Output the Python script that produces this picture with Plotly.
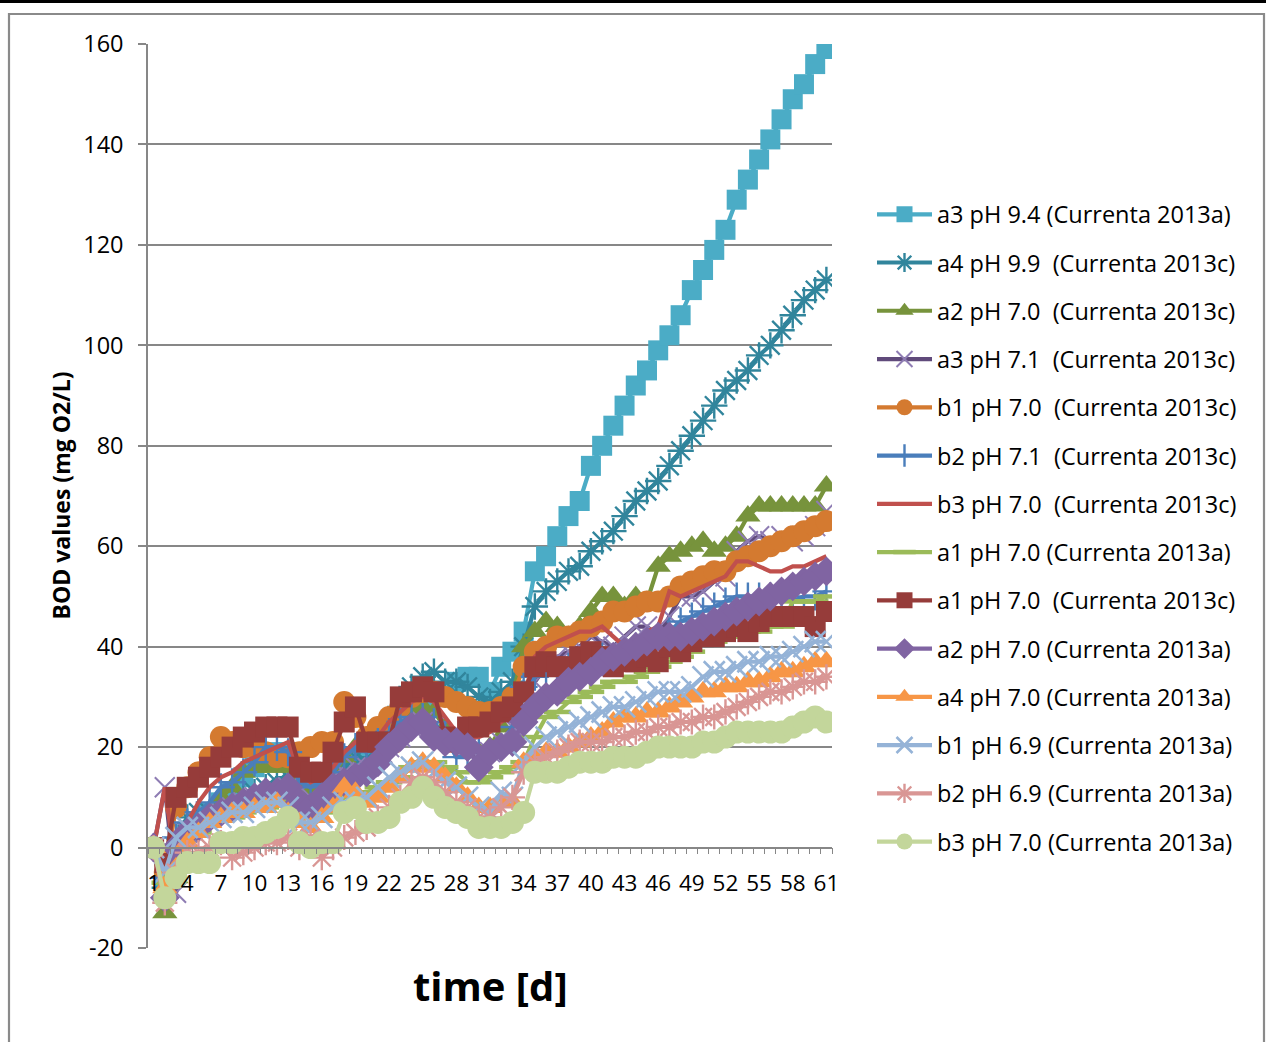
import plotly.graph_objects as go

# ---------------- data ----------------
days = list(range(1, 62))
x_tick_days = list(range(1, 62, 3))
y_ticks = list(range(-20, 161, 20))
y_tick_text = [str(v) for v in y_ticks]

a3_ph94_2013a = [0, -8, -4, 3, 5, 7, 9, 11, 14, 16, 18, 19, 19, 13, 12, 13, 14, 17, 18, 17,
                 19, 21, 24, 27, 29, 31, 30, 33, 34, 34, 31, 36, 39, 43, 55, 58, 62, 66, 69, 76,
                 80, 84, 88, 92, 95, 99, 102, 106, 111, 115, 119, 123, 129, 133, 137, 141, 145, 149, 152, 156,
                 159]
a4_ph99_2013c = [0, -8, 0, 6, 7, 7, 8, 9, 10, 11, 12, 13, 14, 12, 11, 13, 14, 16, 18, 17,
                 20, 24, 28, 32, 34, 35, 33, 33, 32, 30, 29, 31, 33, 40, 48, 51, 53, 55, 56, 59,
                 61, 63, 66, 69, 71, 73, 76, 79, 82, 85, 88, 91, 93, 95, 98, 100, 103, 106, 109, 111,
                 113]
a2_ph70_2013c = [0, -13, -6, 3, 5, 7, 10, 12, 15, 16, 16, 16, 16, 12, 10, 12, 14, 18, 20, 20,
                 22, 24, 26, 27, 28, 27, 24, 21, 20, 19, 20, 24, 30, 40, 43, 45, 44, 42, 44, 47,
                 50, 50, 48, 50, 49, 56, 58, 59, 60, 61, 59, 60, 62, 66, 68, 68, 68, 68, 68, 68,
                 72]
a3_ph71_2013c = [0, 12, -9, 3, 5, 6, 7, 8, 9, 10, 10, 11, 12, 11, 10, 12, 14, 15, 16, 16,
                 18, 20, 22, 24, 25, 24, 22, 21, 20, 18, 19, 21, 24, 30, 33, 36, 38, 39, 40, 42,
                 41, 40, 42, 44, 44, 42, 46, 50, 50, 51, 53, 54, 59, 61, 62, 61, 62, 61, 62, 64,
                 67]
b1_ph70_2013c = [0, -5, 8, 12, 15, 18, 22, 21, 20, 20, 19, 18, 18, 19, 20, 21, 21, 29, 26, 22,
                 24, 26, 28, 30, 31, 31, 30, 29, 28, 27, 27, 28, 30, 36, 39, 40, 42, 42, 43, 44,
                 45, 47, 47, 48, 49, 49, 50, 52, 53, 54, 55, 55, 57, 58, 59, 60, 61, 62, 63, 64,
                 65]
b2_ph71_2013c = [0, -6, 2, 5, 7, 9, 12, 13, 15, 17, 20, 20, 19, 13, 12, 13, 15, 18, 20, 19,
                 21, 23, 25, 26, 26, 25, 22, 18, 18, 20, 19, 20, 24, 32, 34, 35, 35, 36, 36, 37,
                 38, 38, 39, 40, 41, 42, 43, 45, 46, 47, 48, 49, 50, 50, 50, 50, 50, 49, 50, 50,
                 51]
b3_ph70_2013c = [0, 12, -4, 5, 9, 12, 14, 15, 17, 18, 19, 20, 21, 15, 13, 14, 16, 19, 21, 20,
                 22, 25, 27, 29, 30, 29, 26, 23, 22, 22, 23, 25, 27, 30, 38, 40, 41, 42, 43, 43,
                 44, 42, 40, 41, 43, 44, 51, 50, 51, 52, 53, 54, 57, 57, 56, 55, 55, 56, 56, 57,
                 58]
a1_ph70_2013a = [0, -7, -3, 2, 3, 5, 6, 6, 7, 8, 8, 9, 10, 8, 6, 7, 8, 10, 11, 11,
                 12, 13, 14, 16, 17, 17, 16, 15, 13, 13, 14, 15, 16, 17, 22, 26, 27, 29, 30, 31,
                 32, 33, 33, 34, 35, 36, 37, 38, 39, 41, 41, 42, 42, 43, 43, 44, 44, 49, 49, 49,
                 50]
a1_ph70_2013c = [0, -3, 10, 12, 14, 16, 18, 20, 22, 23, 24, 24, 24, 16, 15, 15, 19, 25, 28, 21,
                 21, 21, 30, 31, 32, 31, 22, 21, 24, 24, 25, 27, 28, 31, 36, 37, 36, 36, 38, 39,
                 38, 36, 37, 37, 38, 37, 40, 39, 41, 42, 42, 43, 44, 43, 45, 46, 46, 46, 46, 44,
                 47]
a2_ph70_2013a = [0, -10, 0, 3, 4, 6, 7, 8, 9, 10, 11, 11, 12, 9, 8, 10, 12, 13, 14, 15,
                 17, 20, 22, 24, 25, 22, 21, 21, 20, 16, 19, 20, 21, 25, 28, 30, 31, 33, 34, 35,
                 37, 38, 39, 40, 41, 42, 42, 42, 43, 44, 45, 46, 47, 48, 49, 50, 51, 52, 53, 54,
                 55]
a4_ph70_2013a = [0, -8, -4, 1, 3, 5, 6, 7, 7, 8, 8, 9, 7, 5, 4, 6, 8, 12, 11, 9,
                 10, 12, 14, 16, 17, 16, 14, 12, 10, 8, 8, 9, 9, 17, 18, 19, 19, 20, 21, 22,
                 23, 25, 26, 26, 27, 27, 28, 29, 30, 31, 31, 32, 32, 33, 33, 34, 35, 35, 36, 37,
                 37]
b1_ph69_2013a = [0, -5, 2, 4, 4, 5, 6, 7, 7, 8, 9, 9, 8, 5, 5, 6, 8, 9, 9, 10,
                 12, 14, 15, 16, 17, 15, 13, 12, 10, 8, 7, 11, 10, 17, 20, 22, 23, 24, 25, 26,
                 27, 28, 28, 29, 30, 31, 31, 31, 32, 34, 35, 35, 36, 37, 37, 38, 38, 39, 40, 41,
                 41]
b2_ph69_2013a = [0, -11, -5, -1, -1, 0, 1, -2, -1, 0, 1, 1, 2, 0, 2, -2, 0, 2, 3, 4,
                 6, 8, 10, 13, 14, 13, 11, 9, 8, 6, 6, 8, 10, 15, 17, 18, 19, 20, 21, 21,
                 21, 22, 22, 23, 23, 24, 24, 25, 25, 26, 26, 27, 28, 29, 30, 31, 31, 32, 33, 33,
                 34]
b3_ph70_2013a = [0, -10, -6, -3, -3, -3, 1, 1, 2, 2, 3, 4, 6, 1, 0, 1, 1, 7, 8, 5,
                 5, 6, 9, 10, 12, 10, 8, 7, 6, 4, 4, 4, 5, 7, 15, 15, 15, 16, 17, 17,
                 17, 18, 18, 18, 19, 20, 20, 20, 20, 21, 21, 22, 23, 23, 23, 23, 23, 24, 25, 26,
                 25]

series_names = [
    "a3 pH 9.4 (Currenta 2013a)",
    "a4 pH 9.9 \u00a0(Currenta 2013c)",
    "a2 pH 7.0 \u00a0(Currenta 2013c)",
    "a3 pH 7.1 \u00a0(Currenta 2013c)",
    "b1 pH 7.0 \u00a0(Currenta 2013c)",
    "b2 pH 7.1 \u00a0(Currenta 2013c)",
    "b3 pH 7.0 \u00a0(Currenta 2013c)",
    "a1 pH 7.0 (Currenta 2013a)",
    "a1 pH 7.0 \u00a0(Currenta 2013c)",
    "a2 pH 7.0 (Currenta 2013a)",
    "a4 pH 7.0 (Currenta 2013a)",
    "b1 pH 6.9 (Currenta 2013a)",
    "b2 pH 6.9 (Currenta 2013a)",
    "b3 pH 7.0 (Currenta 2013a)",
]
series_values = [a3_ph94_2013a, a4_ph99_2013c, a2_ph70_2013c, a3_ph71_2013c, b1_ph70_2013c,
                 b2_ph71_2013c, b3_ph70_2013c, a1_ph70_2013a, a1_ph70_2013c, a2_ph70_2013a,
                 a4_ph70_2013a, b1_ph69_2013a, b2_ph69_2013a, b3_ph70_2013a]

# ---------------- styles ----------------
# (line colour, marker symbol, marker colour, marker size, open-marker line width)
styles = [
    ("#4BACC6", "square", "#4BACC6", 20, 0),
    ("#31859C", "asterisk-open", "#31859C", 22, 2.4),
    ("#77933C", "triangle-up", "#77933C", 22, 0),
    ("#604A7B", "x-thin-open", "#8E7CB3", 20, 2),
    ("#D47A30", "circle", "#D47A30", 22, 0),
    ("#4A7EBB", "cross-thin-open", "#4A7EBB", 20, 2.4),
    ("#C0504D", None, None, 0, 0),
    ("#9BBB59", "line-ew-open", "#9BBB59", 19, 4.5),
    ("#963C3A", "square", "#963C3A", 21, 0),
    ("#8064A2", "diamond", "#8064A2", 23, 0),
    ("#F79646", "triangle-up", "#F79646", 22, 0),
    ("#95B3D7", "x-thin-open", "#95B3D7", 21, 2.6),
    ("#D99694", "asterisk-open", "#D99694", 21, 2.4),
    ("#C3D69B", "circle", "#C3D69B", 23, 0),
]

L, R, T, B = 148, 832, 44, 948
W, H = 1266, 1042


def px2x(px):
    return (px - L) / (R - L)


def py2y(py):
    return (B - py) / (B - T)


fig = go.Figure()
for name, vals, st in zip(series_names, series_values, styles):
    lc, sym, mc, ms, mlw = st
    kw = dict(x=days, y=vals, name=name, legendgroup=name,
              line=dict(color=lc, width=4.2))
    if sym is None:
        kw["mode"] = "lines"
    else:
        kw["mode"] = "lines+markers"
        if sym.endswith("-open"):
            kw["marker"] = dict(symbol=sym, size=ms, color=mc, line=dict(color=mc, width=mlw))
        else:
            kw["marker"] = dict(symbol=sym, size=ms, color=mc, line=dict(width=0))
    fig.add_trace(go.Scatter(**kw))

grid_col = "#878787"
font_fam = "Open Sans, Lato, sans-serif"

fig.update_layout(
    width=W, height=H,
    margin=dict(l=L, r=W - R, t=T, b=H - B, autoexpand=False),
    paper_bgcolor="white", plot_bgcolor="white",
    font=dict(family=font_fam, color="#000000", size=22),
    showlegend=True,
    legend=dict(x=px2x(872), y=py2y(192.5), xanchor="left", yanchor="top",
                font=dict(size=23.5, family=font_fam, color="#000000"),
                itemwidth=55, tracegroupgap=14.7, bgcolor="rgba(0,0,0,0)",
                traceorder="grouped", itemclick=False, itemsizing="trace"),
)

fig.update_xaxes(
    range=[0.5, 61.5], tickmode="array", tickvals=x_tick_days,
    ticktext=[str(d) for d in x_tick_days], ticks="",
    showgrid=False, zeroline=False, showline=True, linecolor=grid_col, linewidth=1.5,
    anchor="free", position=20 / 180,
    minor=dict(tick0=0.5, dtick=1, ticks="outside", ticklen=6, tickcolor=grid_col,
               tickwidth=1, showgrid=False),
    tickfont=dict(size=22.5, family=font_fam, color="#000000"),
    ticklabelstandoff=16,
)
fig.update_yaxes(
    range=[-20, 160], tickmode="array", tickvals=y_ticks, ticktext=y_tick_text,
    showgrid=True, gridcolor=grid_col, gridwidth=1.5, zeroline=False,
    showline=True, linecolor=grid_col, linewidth=1.5,
    ticks="outside", ticklen=8, tickcolor=grid_col, tickwidth=1.5,
    tickfont=dict(size=23.5, family=font_fam, color="#000000"),
    ticklabelstandoff=10,
)

# axis titles
fig.add_annotation(x=px2x(490), y=py2y(985), xref="paper", yref="paper",
                   text="<b>time [d]</b>", showarrow=False,
                   font=dict(size=40, family=font_fam, color="#000000"),
                   xanchor="center", yanchor="middle")
fig.add_annotation(x=px2x(60.5), y=0.5, xref="paper", yref="paper",
                   text="<b>BOD values (mg O2/L)</b>", showarrow=False, textangle=-90,
                   font=dict(size=23, family=font_fam, color="#000000"),
                   xanchor="center", yanchor="middle")

# page frame: black rule on top, grey chart border
fig.add_shape(type="rect", xref="paper", yref="paper",
              x0=px2x(0), x1=px2x(W), y0=py2y(3), y1=py2y(0),
              fillcolor="#000000", line=dict(width=0), layer="above")
fig.add_shape(type="rect", xref="paper", yref="paper",
              x0=px2x(9), x1=px2x(1264), y0=py2y(1070), y1=py2y(14),
              fillcolor="rgba(0,0,0,0)", line=dict(color="#8A8A8A", width=2.2), layer="below")

fig.write_html("out.html")
